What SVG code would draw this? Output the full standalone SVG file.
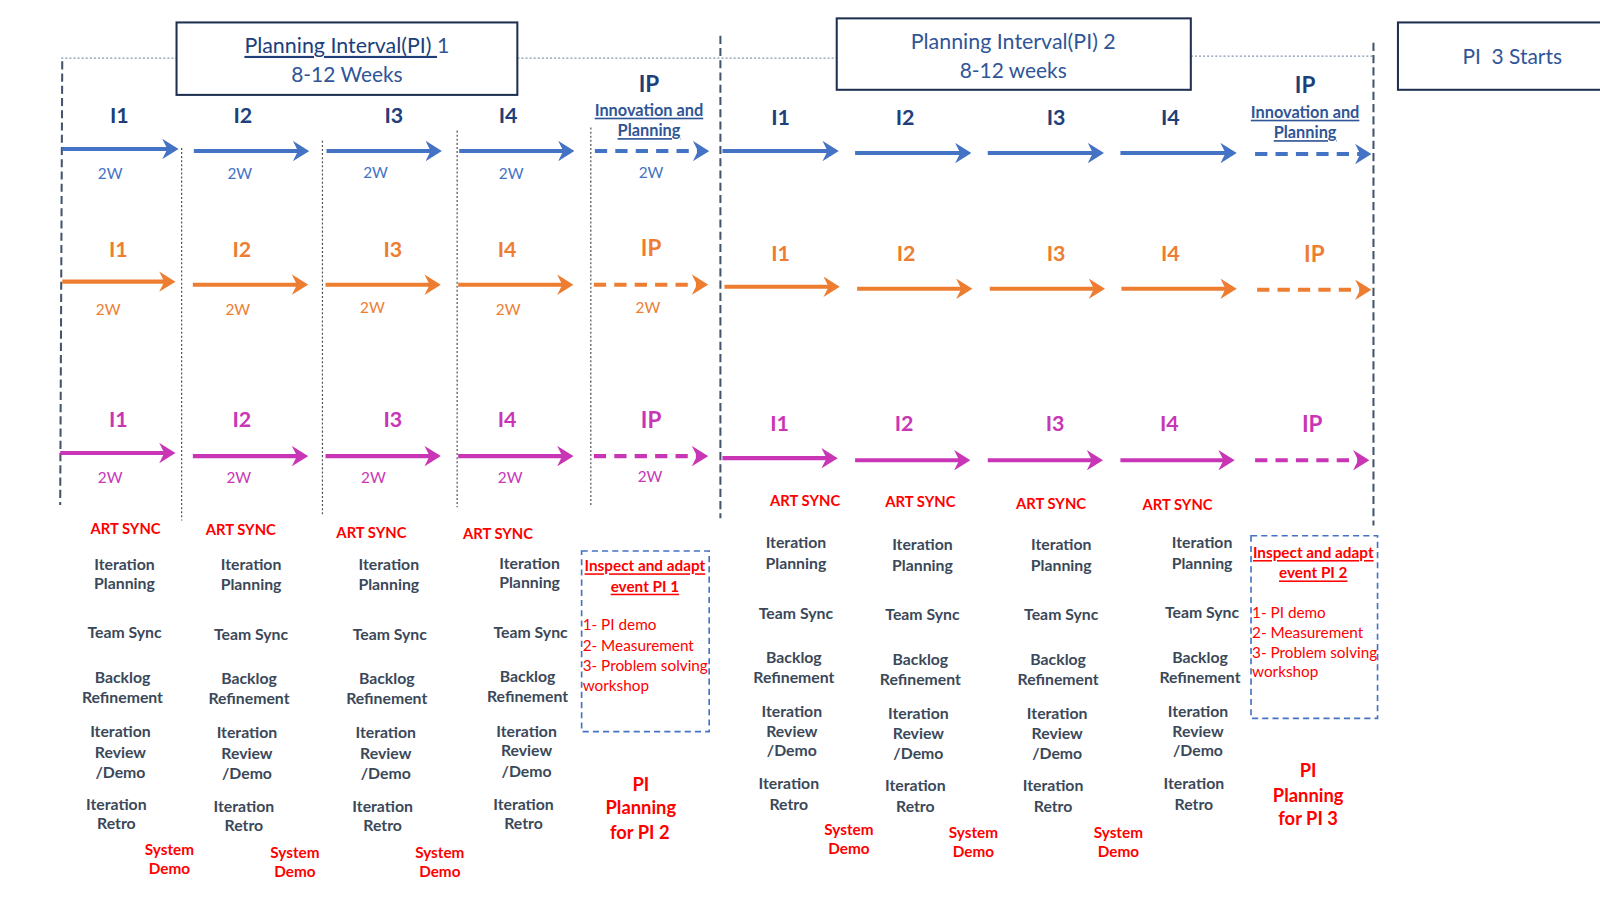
<svg xmlns="http://www.w3.org/2000/svg" width="1600" height="900" viewBox="0 0 1600 900">
<style>
text{font-family:Lato,"Liberation Sans",sans-serif;dominant-baseline:central;text-anchor:middle}
.hd{font-size:20.5px;fill:#2F5597}
.lb{font-size:21px;font-weight:bold}
.ipl{font-size:22px;font-weight:bold}
.inn{font-size:16px;font-weight:bold;fill:#2F5597;text-decoration:underline}
.w{font-size:15px}
.b{fill:#203F7A}.bw{fill:#4472C4}
.o{fill:#ED7D31}
.m{fill:#C936B5}
.act{font-size:15.5px;font-weight:bold;fill:#3B4859}
.art{font-size:14.5px;font-weight:bold;fill:#FF0000}
.sd{font-size:15px;font-weight:bold;fill:#FF0000}
.ia{font-size:15px;font-weight:bold;fill:#FF0000;text-decoration:underline}
.li{font-size:15px;fill:#FF0000;text-anchor:start}
.pp{font-size:18px;font-weight:bold;fill:#FF0000}
.box{fill:#fff;stroke:#1F2F4F;stroke-width:2}
.ibox{fill:none;stroke:#4472C4;stroke-width:1.6;stroke-dasharray:6 4}
.dk{stroke:#44546A;stroke-width:2;stroke-dasharray:8 4;fill:none}
.dt{stroke:#555;stroke-width:1.2;stroke-dasharray:2 2;fill:none}
.hz{stroke:#8497B0;stroke-width:1.2;stroke-dasharray:2 2;fill:none}
.ab{stroke:#4472C4;stroke-width:4;fill:none;marker-end:url(#mb)}
.ao{stroke:#ED7D31;stroke-width:4;fill:none;marker-end:url(#mo)}
.am{stroke:#C936B5;stroke-width:4;fill:none;marker-end:url(#mm)}
.ds{stroke-dasharray:12 8}
</style>
<defs>
<marker id="mb" markerUnits="userSpaceOnUse" viewBox="0 0 16 20" markerWidth="16" markerHeight="20" refX="6" refY="10" orient="auto"><path d="M0,0 L16,10 L0,20 L5,10 Z" fill="#4472C4"/></marker>
<marker id="mo" markerUnits="userSpaceOnUse" viewBox="0 0 16 20" markerWidth="16" markerHeight="20" refX="6" refY="10" orient="auto"><path d="M0,0 L16,10 L0,20 L5,10 Z" fill="#ED7D31"/></marker>
<marker id="mm" markerUnits="userSpaceOnUse" viewBox="0 0 16 20" markerWidth="16" markerHeight="20" refX="6" refY="10" orient="auto"><path d="M0,0 L16,10 L0,20 L5,10 Z" fill="#C936B5"/></marker>
</defs>
<rect width="1600" height="900" fill="#fff"/>
<g transform="scale(1.020408)">
<g id="guides">
<line class="hz" x1="60" y1="57" x2="173" y2="57"/>
<line class="hz" x1="507" y1="57" x2="820" y2="57"/>
<line class="hz" x1="1167" y1="55" x2="1345" y2="55"/>
<line class="dk" x1="61" y1="60" x2="59" y2="495"/>
<line class="dk" x1="706" y1="35" x2="706" y2="508"/>
<line class="dk" x1="1346" y1="42" x2="1346" y2="515"/>
<line class="dt" x1="178" y1="145" x2="178" y2="510"/>
<line class="dt" x1="316" y1="138" x2="316" y2="505"/>
<line class="dt" x1="448" y1="128" x2="448" y2="497"/>
<line class="dt" x1="579" y1="125" x2="579" y2="495"/>
</g>
<g id="pi1-header">
<rect class="box" x="173" y="22" width="334" height="71"/>
<text class="hd" x="340" y="44" style="font-size:21px"><tspan style="text-decoration:underline;fill:#203F7A">Planning Interval(PI) </tspan><tspan>1</tspan></text>
<text class="hd" x="340" y="72">8-12 Weeks</text>
</g>
<g id="pi2-header">
<rect class="box" x="820" y="18" width="347" height="70"/>
<text class="hd" x="993" y="40" style="font-size:21px">Planning Interval(PI) 2</text>
<text class="hd" x="993" y="68">8-12 weeks</text>
</g>
<g id="pi3-header">
<rect class="box" x="1370" y="22" width="240" height="66"/>
<text class="hd" x="1482" y="54" style="white-space:pre">PI  3 Starts</text>
</g>
<g id="labels-blue">
<text class="lb b" x="117" y="113">I1</text><text class="lb b" x="238" y="113">I2</text><text class="lb b" x="386" y="113">I3</text><text class="lb b" x="498" y="113">I4</text>
<text class="ipl b" x="636" y="82">IP</text><text class="inn" x="636" y="107">Innovation and</text><text class="inn" x="636" y="127">Planning</text>
<text class="w bw" x="108" y="170">2W</text><text class="w bw" x="235" y="170">2W</text><text class="w bw" x="368" y="169">2W</text><text class="w bw" x="501" y="170">2W</text><text class="w bw" x="638" y="169">2W</text>
<text class="lb b" x="765" y="115">I1</text><text class="lb b" x="887" y="115">I2</text><text class="lb b" x="1035" y="115">I3</text><text class="lb b" x="1147" y="115">I4</text>
<text class="ipl b" x="1279" y="83">IP</text><text class="inn" x="1279" y="109">Innovation and</text><text class="inn" x="1279" y="129">Planning</text>
</g>
<g id="labels-orange">
<text class="lb o" x="116" y="244">I1</text><text class="lb o" x="237" y="244">I2</text><text class="lb o" x="385" y="244">I3</text><text class="lb o" x="497" y="244">I4</text><text class="ipl o" x="638" y="243">IP</text>
<text class="w o" x="106" y="303">2W</text><text class="w o" x="233" y="303">2W</text><text class="w o" x="365" y="301">2W</text><text class="w o" x="498" y="303">2W</text><text class="w o" x="635" y="301">2W</text>
<text class="lb o" x="765" y="248">I1</text><text class="lb o" x="888" y="248">I2</text><text class="lb o" x="1035" y="248">I3</text><text class="lb o" x="1147" y="248">I4</text><text class="ipl o" x="1288" y="248">IP</text>
</g>
<g id="labels-magenta">
<text class="lb m" x="116" y="411">I1</text><text class="lb m" x="237" y="411">I2</text><text class="lb m" x="385" y="411">I3</text><text class="lb m" x="497" y="411">I4</text><text class="ipl m" x="638" y="411">IP</text>
<text class="w m" x="108" y="467">2W</text><text class="w m" x="234" y="467">2W</text><text class="w m" x="366" y="467">2W</text><text class="w m" x="500" y="467">2W</text><text class="w m" x="637" y="466">2W</text>
<text class="lb m" x="764" y="415">I1</text><text class="lb m" x="886" y="415">I2</text><text class="lb m" x="1034" y="415">I3</text><text class="lb m" x="1146" y="415">I4</text><text class="ipl m" x="1286" y="415">IP</text>
</g>
<g id="connectors">
<line class="ab" x1="61" y1="146" x2="165" y2="146"/>
<line class="ab" x1="190" y1="148" x2="293" y2="148"/>
<line class="ab" x1="320" y1="148" x2="423" y2="148"/>
<line class="ab" x1="450" y1="148" x2="553" y2="148"/>
<line class="ab ds" x1="583" y1="148" x2="685" y2="148"/>
<line class="ab" x1="708" y1="148" x2="812" y2="148"/>
<line class="ab" x1="838" y1="150" x2="942" y2="150"/>
<line class="ab" x1="968" y1="150" x2="1072" y2="150"/>
<line class="ab" x1="1098" y1="150" x2="1202" y2="150"/>
<line class="ab ds" x1="1230" y1="151" x2="1334" y2="151"/>
<line class="ao" x1="61" y1="276" x2="162" y2="276"/>
<line class="ao" x1="189" y1="279" x2="292" y2="279"/>
<line class="ao" x1="319" y1="279" x2="422" y2="279"/>
<line class="ao" x1="449" y1="279" x2="552" y2="279"/>
<line class="ao ds" x1="582" y1="279" x2="684" y2="279"/>
<line class="ao" x1="710" y1="281" x2="813" y2="281"/>
<line class="ao" x1="840" y1="283" x2="943" y2="283"/>
<line class="ao" x1="970" y1="283" x2="1073" y2="283"/>
<line class="ao" x1="1099" y1="283" x2="1202" y2="283"/>
<line class="ao ds" x1="1232" y1="284" x2="1334" y2="284"/>
<line class="am" x1="59" y1="444" x2="162" y2="444"/>
<line class="am" x1="189" y1="447" x2="292" y2="447"/>
<line class="am" x1="319" y1="447" x2="422" y2="447"/>
<line class="am" x1="449" y1="447" x2="552" y2="447"/>
<line class="am ds" x1="582" y1="447" x2="684" y2="447"/>
<line class="am" x1="708" y1="449" x2="811" y2="449"/>
<line class="am" x1="838" y1="451" x2="941" y2="451"/>
<line class="am" x1="968" y1="451" x2="1071" y2="451"/>
<line class="am" x1="1098" y1="451" x2="1200" y2="451"/>
<line class="am ds" x1="1230" y1="451" x2="1332" y2="451"/>
</g>
<g id="pi1-col1">
<text class="art" x="123" y="517">ART SYNC</text>
<text class="act" x="122" y="552">Iteration</text><text class="act" x="122" y="571">Planning</text>
<text class="act" x="122" y="619">Team Sync</text>
<text class="act" x="120" y="663">Backlog</text><text class="act" x="120" y="683">Refinement</text>
<text class="act" x="118" y="716">Iteration</text><text class="act" x="118" y="736">Review</text><text class="act" x="118" y="756">/Demo</text>
<text class="act" x="114" y="787">Iteration</text><text class="act" x="114" y="806">Retro</text>
<text class="sd" x="166" y="832">System</text><text class="sd" x="166" y="851">Demo</text>
</g>
<g id="pi1-col2">
<text class="art" x="236" y="518">ART SYNC</text>
<text class="act" x="246" y="552">Iteration</text><text class="act" x="246" y="572">Planning</text>
<text class="act" x="246" y="621">Team Sync</text>
<text class="act" x="244" y="664">Backlog</text><text class="act" x="244" y="684">Refinement</text>
<text class="act" x="242" y="717">Iteration</text><text class="act" x="242" y="737">Review</text><text class="act" x="242" y="757">/Demo</text>
<text class="act" x="239" y="789">Iteration</text><text class="act" x="239" y="808">Retro</text>
<text class="sd" x="289" y="835">System</text><text class="sd" x="289" y="854">Demo</text>
</g>
<g id="pi1-col3">
<text class="art" x="364" y="521">ART SYNC</text>
<text class="act" x="381" y="552">Iteration</text><text class="act" x="381" y="572">Planning</text>
<text class="act" x="382" y="621">Team Sync</text>
<text class="act" x="379" y="664">Backlog</text><text class="act" x="379" y="684">Refinement</text>
<text class="act" x="378" y="717">Iteration</text><text class="act" x="378" y="737">Review</text><text class="act" x="378" y="757">/Demo</text>
<text class="act" x="375" y="789">Iteration</text><text class="act" x="375" y="808">Retro</text>
<text class="sd" x="431" y="835">System</text><text class="sd" x="431" y="854">Demo</text>
</g>
<g id="pi1-col4">
<text class="art" x="488" y="522">ART SYNC</text>
<text class="act" x="519" y="551">Iteration</text><text class="act" x="519" y="570">Planning</text>
<text class="act" x="520" y="619">Team Sync</text>
<text class="act" x="517" y="662">Backlog</text><text class="act" x="517" y="682">Refinement</text>
<text class="act" x="516" y="716">Iteration</text><text class="act" x="516" y="735">Review</text><text class="act" x="516" y="755">/Demo</text>
<text class="act" x="513" y="787">Iteration</text><text class="act" x="513" y="806">Retro</text>
</g>
<g id="pi1-inspect">
<rect class="ibox" x="570" y="540" width="125" height="177"/>
<text class="ia" x="632" y="554">Inspect and adapt</text>
<text class="ia" x="632" y="574">event PI 1</text>
<text class="li" x="571" y="612">1- PI demo</text>
<text class="li" x="571" y="632">2- Measurement</text>
<text class="li" x="571" y="652">3- Problem solving</text>
<text class="li" x="571" y="671">workshop</text>
</g>
<g id="pi1-planning">
<text class="pp" x="628" y="768">PI</text><text class="pp" x="628" y="791">Planning</text><text class="pp" x="627" y="815">for PI 2</text>
</g>
<g id="pi2-col1">
<text class="art" x="789" y="490">ART SYNC</text>
<text class="act" x="780" y="531">Iteration</text><text class="act" x="780" y="551">Planning</text>
<text class="act" x="780" y="600">Team Sync</text>
<text class="act" x="778" y="643">Backlog</text><text class="act" x="778" y="663">Refinement</text>
<text class="act" x="776" y="696">Iteration</text><text class="act" x="776" y="716">Review</text><text class="act" x="776" y="735">/Demo</text>
<text class="act" x="773" y="767">Iteration</text><text class="act" x="773" y="787">Retro</text>
<text class="sd" x="832" y="812">System</text><text class="sd" x="832" y="831">Demo</text>
</g>
<g id="pi2-col2">
<text class="art" x="902" y="491">ART SYNC</text>
<text class="act" x="904" y="533">Iteration</text><text class="act" x="904" y="553">Planning</text>
<text class="act" x="904" y="601">Team Sync</text>
<text class="act" x="902" y="645">Backlog</text><text class="act" x="902" y="665">Refinement</text>
<text class="act" x="900" y="698">Iteration</text><text class="act" x="900" y="718">Review</text><text class="act" x="900" y="737">/Demo</text>
<text class="act" x="897" y="769">Iteration</text><text class="act" x="897" y="789">Retro</text>
<text class="sd" x="954" y="815">System</text><text class="sd" x="954" y="834">Demo</text>
</g>
<g id="pi2-col3">
<text class="art" x="1030" y="493">ART SYNC</text>
<text class="act" x="1040" y="533">Iteration</text><text class="act" x="1040" y="553">Planning</text>
<text class="act" x="1040" y="601">Team Sync</text>
<text class="act" x="1037" y="645">Backlog</text><text class="act" x="1037" y="665">Refinement</text>
<text class="act" x="1036" y="698">Iteration</text><text class="act" x="1036" y="718">Review</text><text class="act" x="1036" y="737">/Demo</text>
<text class="act" x="1032" y="769">Iteration</text><text class="act" x="1032" y="789">Retro</text>
<text class="sd" x="1096" y="815">System</text><text class="sd" x="1096" y="834">Demo</text>
</g>
<g id="pi2-col4">
<text class="art" x="1154" y="494">ART SYNC</text>
<text class="act" x="1178" y="531">Iteration</text><text class="act" x="1178" y="551">Planning</text>
<text class="act" x="1178" y="599">Team Sync</text>
<text class="act" x="1176" y="643">Backlog</text><text class="act" x="1176" y="663">Refinement</text>
<text class="act" x="1174" y="696">Iteration</text><text class="act" x="1174" y="716">Review</text><text class="act" x="1174" y="735">/Demo</text>
<text class="act" x="1170" y="767">Iteration</text><text class="act" x="1170" y="787">Retro</text>
</g>
<g id="pi2-inspect">
<rect class="ibox" x="1226" y="525" width="124" height="179"/>
<text class="ia" x="1287" y="541">Inspect and adapt</text>
<text class="ia" x="1287" y="561">event PI 2</text>
<text class="li" x="1227" y="600">1- PI demo</text>
<text class="li" x="1227" y="619">2- Measurement</text>
<text class="li" x="1227" y="639">3- Problem solving</text>
<text class="li" x="1227" y="658">workshop</text>
</g>
<g id="pi2-planning">
<text class="pp" x="1282" y="755">PI</text><text class="pp" x="1282" y="779">Planning</text><text class="pp" x="1282" y="802">for PI 3</text>
</g>
</g>
</svg>
